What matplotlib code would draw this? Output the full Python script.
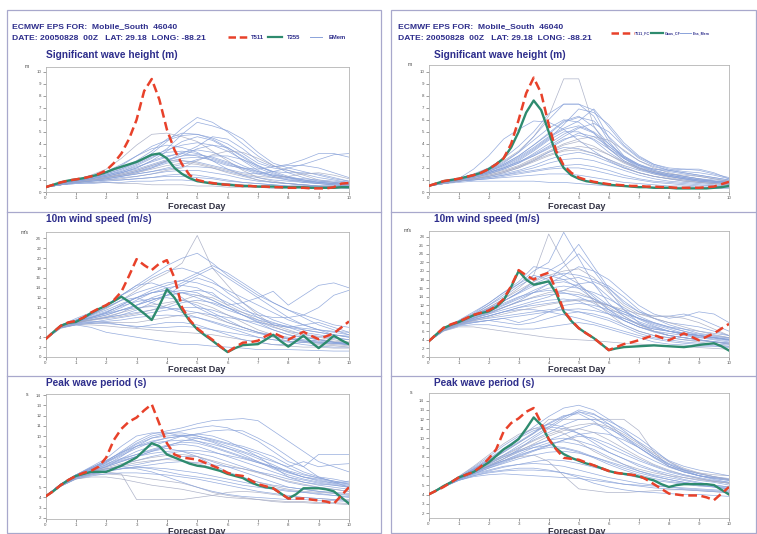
import numpy as np
import matplotlib
matplotlib.use("Agg")
import matplotlib.pyplot as plt
from matplotlib.lines import Line2D

plt.rcParams['font.family'] = ['Liberation Sans', 'DejaVu Sans']

W, H = 757, 534
TXT = '#2e2e8c'
RED = '#e8412a'
GRN = '#2e8b6e'
ENS = '#8aa3da'
FRAME = '#a8a8cc'

# days: ensemble every 12 h, control runs every 6 h
days_ens = np.arange(0, 10.01, 0.5)
days_ctl = np.arange(0, 10.01, 0.25)

# ---------------- significant wave height, left (T511 / T255) ----------------
hs_l_red = [0.4, 0.6, 0.8, 0.95, 1.05, 1.15, 1.3, 1.5, 1.8, 2.4, 3.2, 4.4, 6.0, 8.4, 9.4, 7.7, 5.2,
            3.5, 2.3, 1.4, 1.0, 0.85, 0.75, 0.65, 0.6, 0.55, 0.5, 0.5, 0.45, 0.45, 0.4, 0.4, 0.35,
            0.35, 0.35, 0.3, 0.3, 0.3, 0.4, 0.7, 0.75]
hs_l_grn = [0.4, 0.6, 0.8, 0.95, 1.05, 1.15, 1.3, 1.45, 1.65, 1.9, 2.1, 2.3, 2.5, 2.8, 3.1, 3.2, 2.8,
            2.0, 1.5, 1.15, 0.9, 0.8, 0.7, 0.65, 0.6, 0.55, 0.5, 0.5, 0.45, 0.45, 0.45, 0.4, 0.4,
            0.4, 0.4, 0.35, 0.35, 0.35, 0.35, 0.4, 0.4]
hs_l_ens = [
    [0.4, 0.7, 1.0, 1.4, 1.9, 2.8, 3.9, 4.8, 4.9, 4.6, 4.2, 3.4, 2.6, 1.8, 1.2, 0.9, 0.7, 0.6, 0.5, 0.5, 0.5],
    [0.4, 0.7, 1.0, 1.2, 1.5, 1.9, 2.5, 3.2, 4.2, 5.3, 6.2, 5.8, 5.0, 4.0, 3.0, 2.2, 1.6, 1.2, 0.9, 0.8, 0.7],
    [0.4, 0.7, 1.0, 1.2, 1.4, 1.7, 2.2, 2.8, 3.6, 4.8, 5.8, 5.5, 5.1, 4.4, 3.3, 2.4, 2.0, 1.7, 1.4, 1.1, 0.9],
    [0.4, 0.7, 1.0, 1.1, 1.3, 1.6, 2.0, 2.6, 3.0, 3.2, 3.0, 2.6, 2.2, 2.0, 1.9, 2.1, 2.3, 2.7, 3.2, 3.2, 2.9],
    [0.4, 0.7, 0.9, 1.1, 1.3, 1.6, 2.0, 2.6, 3.4, 4.2, 4.6, 4.3, 3.6, 2.6, 1.8, 1.3, 1.0, 0.8, 0.7, 0.6, 0.5],
    [0.4, 0.7, 0.9, 1.0, 1.2, 1.4, 1.7, 2.0, 2.4, 2.6, 2.5, 2.2, 1.9, 1.6, 1.5, 1.7, 2.0, 2.3, 2.7, 3.1, 3.2],
    [0.4, 0.6, 0.8, 0.8, 0.8, 0.7, 0.7, 0.6, 0.6, 0.6, 0.5, 0.5, 0.4, 0.4, 0.4, 0.3, 0.3, 0.3, 0.3, 0.3, 0.3],
    [0.4, 0.6, 0.8, 0.9, 1.0, 1.0, 1.1, 1.2, 1.4, 1.5, 1.4, 1.2, 1.0, 0.8, 0.7, 0.6, 0.5, 0.5, 0.4, 0.4, 0.4],
    [0.4, 0.7, 0.9, 1.1, 1.4, 1.8, 2.3, 2.9, 3.3, 3.4, 3.2, 2.8, 2.4, 2.0, 1.7, 1.4, 1.2, 1.0, 0.8, 0.7, 0.6],
    [0.4, 0.7, 0.9, 1.0, 1.2, 1.5, 1.8, 2.2, 2.6, 3.0, 3.6, 3.9, 3.7, 3.0, 2.2, 1.6, 1.2, 0.9, 0.7, 0.6, 0.5],
    [0.4, 0.6, 0.8, 1.0, 1.1, 1.3, 1.5, 1.7, 1.9, 2.1, 2.1, 2.0, 1.7, 1.4, 1.2, 1.0, 0.9, 0.8, 0.7, 0.6, 0.5],
    [0.4, 0.7, 0.9, 1.2, 1.6, 2.2, 3.0, 3.8, 4.3, 4.7, 4.8, 4.4, 3.7, 2.9, 2.1, 1.7, 1.6, 1.6, 1.5, 1.2, 0.9],
    [0.4, 0.6, 0.8, 0.9, 1.0, 1.1, 1.3, 1.5, 1.8, 2.0, 2.6, 3.1, 3.4, 3.3, 2.8, 2.2, 1.8, 1.4, 1.0, 0.8, 0.6],
    [0.4, 0.6, 0.7, 0.7, 0.8, 0.8, 0.9, 0.9, 1.0, 1.0, 0.9, 0.8, 0.7, 0.6, 0.5, 0.5, 0.4, 0.4, 0.4, 0.4, 0.3],
    [0.4, 0.6, 0.8, 1.0, 1.2, 1.4, 1.7, 2.1, 2.5, 2.8, 2.9, 2.7, 2.3, 1.9, 1.5, 1.2, 1.0, 0.9, 0.8, 0.7, 0.6],
    [0.4, 0.7, 1.0, 1.3, 1.7, 2.3, 3.0, 3.6, 3.9, 3.7, 3.3, 2.6, 1.9, 1.4, 1.0, 0.8, 0.7, 0.6, 0.5, 0.4, 0.4],
    [0.4, 0.7, 1.0, 1.3, 1.6, 2.0, 2.6, 3.4, 4.4, 4.9, 4.8, 4.5, 4.0, 3.2, 2.4, 2.0, 1.8, 1.5, 1.2, 1.0, 0.8],
    [0.4, 0.6, 0.8, 1.0, 1.1, 1.3, 1.6, 2.0, 2.6, 3.2, 3.8, 4.6, 4.4, 3.6, 2.6, 2.1, 2.2, 2.2, 2.0, 1.6, 1.2],
    [0.4, 0.6, 0.8, 1.0, 1.2, 1.4, 1.6, 1.9, 2.2, 2.4, 2.3, 2.0, 1.6, 1.3, 1.0, 0.8, 0.7, 0.6, 0.5, 0.5, 0.4],
    [0.4, 0.7, 0.9, 1.1, 1.3, 1.6, 1.9, 2.3, 2.7, 3.0, 3.1, 2.9, 2.5, 2.0, 1.6, 1.3, 1.1, 0.9, 0.8, 0.7, 0.6],
    [0.4, 0.6, 0.8, 0.9, 1.0, 1.2, 1.3, 1.5, 1.7, 1.8, 1.8, 1.6, 1.4, 1.1, 0.9, 0.8, 0.7, 0.6, 0.5, 0.5, 0.4],
    [0.4, 0.7, 0.9, 1.1, 1.4, 1.7, 2.1, 2.5, 2.9, 3.3, 3.5, 3.3, 2.8, 2.2, 1.7, 1.4, 1.2, 1.1, 1.0, 0.9, 0.8],
    [0.4, 0.6, 0.7, 0.8, 0.9, 1.0, 1.1, 1.2, 1.3, 1.3, 1.2, 1.1, 0.9, 0.8, 0.7, 0.6, 0.5, 0.5, 0.4, 0.4, 0.4],
    [0.4, 0.7, 0.9, 1.2, 1.5, 1.9, 2.4, 3.0, 3.5, 3.9, 4.1, 3.9, 3.4, 2.7, 2.0, 1.5, 1.2, 1.0, 0.9, 0.8, 0.7],
    [0.4, 0.6, 0.8, 1.0, 1.2, 1.5, 1.8, 2.2, 2.6, 2.6, 2.4, 2.1, 1.8, 1.5, 1.3, 1.2, 1.3, 1.5, 1.6, 1.4, 1.1],
    [0.4, 0.6, 0.8, 0.9, 1.1, 1.3, 1.5, 1.7, 2.0, 2.3, 2.7, 3.0, 3.0, 2.7, 2.2, 1.7, 1.3, 1.0, 0.8, 0.7, 0.6],
]

# ---------------- significant wave height, right ----------------
hs_r_red = [0.5, 0.7, 0.9, 1.0, 1.1, 1.25, 1.4, 1.6, 1.9, 2.3, 2.8, 4.0, 6.0, 8.2, 9.5, 8.2, 5.6,
            3.4, 2.2, 1.6, 1.2, 1.0, 0.85, 0.75, 0.65, 0.6, 0.55, 0.5, 0.5, 0.45, 0.45, 0.4, 0.4,
            0.35, 0.35, 0.35, 0.35, 0.4, 0.45, 0.65, 0.85]
hs_r_grn = [0.5, 0.7, 0.9, 1.0, 1.1, 1.25, 1.4, 1.6, 1.9, 2.3, 2.8, 3.7, 5.0, 6.6, 7.6, 6.8, 5.0,
            3.1, 2.0, 1.4, 1.1, 0.9, 0.8, 0.7, 0.6, 0.55, 0.5, 0.45, 0.4, 0.4, 0.35, 0.35, 0.35,
            0.3, 0.3, 0.3, 0.3, 0.3, 0.35, 0.4, 0.5]
hs_r_ens = [
    [0.5, 0.8, 1.1, 1.4, 1.9, 2.6, 3.4, 4.6, 6.3, 9.4, 9.4, 5.5, 3.6, 2.6, 2.0, 1.6, 1.3, 1.1, 0.9, 0.8, 0.7],
    [0.5, 0.8, 1.1, 1.5, 2.0, 2.8, 3.8, 5.0, 6.5, 7.3, 7.3, 6.8, 4.5, 3.0, 2.2, 1.7, 1.4, 1.2, 1.0, 0.9, 0.8],
    [0.5, 0.8, 1.1, 1.9, 3.0, 4.4, 5.2, 5.9, 5.8, 5.2, 4.3, 3.4, 2.6, 2.0, 1.6, 1.3, 1.1, 1.0, 0.9, 0.8, 0.7],
    [0.5, 0.8, 1.0, 1.3, 1.7, 2.3, 3.0, 3.9, 4.8, 5.8, 6.2, 5.9, 4.6, 3.4, 2.6, 2.1, 1.8, 1.6, 1.4, 1.2, 1.0],
    [0.5, 0.8, 1.0, 1.3, 1.6, 2.1, 2.7, 3.5, 4.4, 5.6, 6.9, 6.6, 5.6, 4.1, 3.0, 2.3, 1.9, 1.7, 1.6, 1.4, 1.1],
    [0.5, 0.8, 1.0, 1.2, 1.5, 1.9, 2.4, 3.2, 4.0, 4.8, 5.4, 4.9, 3.8, 2.8, 2.2, 1.9, 1.8, 1.9, 1.9, 1.6, 1.1],
    [0.5, 0.8, 1.0, 1.2, 1.4, 1.7, 2.1, 2.7, 3.3, 3.9, 4.2, 3.8, 3.1, 2.4, 1.9, 1.5, 1.2, 1.0, 0.8, 0.7, 0.6],
    [0.5, 0.7, 0.9, 1.1, 1.2, 1.4, 1.6, 1.8, 2.0, 2.2, 2.3, 2.1, 1.8, 1.4, 1.1, 0.9, 0.8, 0.7, 0.6, 0.5, 0.5],
    [0.5, 0.7, 0.9, 1.0, 1.1, 1.2, 1.3, 1.4, 1.5, 1.5, 1.4, 1.2, 1.0, 0.8, 0.7, 0.6, 0.5, 0.5, 0.4, 0.4, 0.4],
    [0.5, 0.7, 0.8, 0.9, 0.9, 0.9, 0.9, 0.9, 0.8, 0.8, 0.7, 0.6, 0.5, 0.5, 0.4, 0.4, 0.4, 0.3, 0.3, 0.3, 0.3],
    [0.5, 0.8, 1.1, 1.4, 1.8, 2.5, 3.3, 4.3, 5.3, 6.0, 5.8, 4.9, 3.6, 2.6, 2.0, 1.6, 1.3, 1.1, 0.9, 0.8, 0.7],
    [0.5, 0.8, 1.0, 1.3, 1.6, 2.0, 2.6, 3.4, 4.3, 5.0, 5.0, 4.3, 3.3, 2.5, 1.9, 1.6, 1.4, 1.2, 1.0, 0.9, 0.8],
    [0.5, 0.8, 1.0, 1.2, 1.5, 1.8, 2.2, 2.8, 3.4, 4.0, 4.4, 4.6, 4.3, 3.5, 2.6, 2.0, 1.6, 1.3, 1.1, 0.9, 0.8],
    [0.5, 0.8, 1.1, 1.4, 1.8, 2.4, 3.3, 4.6, 6.0, 7.3, 7.3, 6.3, 4.2, 2.8, 2.0, 1.6, 1.3, 1.1, 1.0, 0.9, 0.8],
    [0.5, 0.7, 0.9, 1.1, 1.3, 1.5, 1.8, 2.2, 2.7, 3.1, 3.3, 3.0, 2.5, 2.0, 1.6, 1.3, 1.1, 0.9, 0.8, 0.7, 0.6],
    [0.5, 0.8, 1.0, 1.3, 1.7, 2.2, 2.9, 3.7, 4.6, 5.3, 5.9, 6.9, 5.4, 3.9, 2.9, 2.3, 2.0, 1.9, 1.8, 1.5, 1.2],
    [0.5, 0.7, 0.9, 1.1, 1.3, 1.6, 2.0, 2.6, 3.3, 3.7, 3.6, 3.2, 2.7, 2.2, 1.8, 1.5, 1.3, 1.1, 0.9, 0.8, 0.7],
    [0.5, 0.8, 1.0, 1.3, 1.6, 2.0, 2.5, 3.0, 3.6, 4.3, 4.9, 4.6, 3.8, 2.9, 2.3, 1.9, 1.7, 1.5, 1.3, 1.1, 0.9],
    [0.5, 0.7, 0.9, 1.1, 1.3, 1.6, 2.0, 2.5, 3.0, 3.4, 3.5, 3.2, 2.7, 2.1, 1.6, 1.3, 1.1, 0.9, 0.8, 0.7, 0.6],
    [0.5, 0.8, 1.0, 1.2, 1.5, 1.9, 2.4, 3.0, 3.7, 4.4, 4.7, 4.4, 3.6, 2.8, 2.1, 1.7, 1.4, 1.2, 1.0, 0.9, 0.8],
    [0.5, 0.7, 0.9, 1.0, 1.2, 1.4, 1.7, 2.0, 2.4, 2.7, 2.8, 2.6, 2.2, 1.8, 1.4, 1.1, 0.9, 0.8, 0.7, 0.6, 0.5],
    [0.5, 0.8, 1.0, 1.3, 1.7, 2.2, 2.8, 3.6, 4.5, 5.2, 5.5, 5.0, 4.0, 3.0, 2.3, 1.8, 1.5, 1.3, 1.1, 1.0, 0.9],
    [0.5, 0.7, 0.9, 1.0, 1.1, 1.3, 1.5, 1.7, 1.9, 2.0, 2.0, 1.8, 1.5, 1.2, 1.0, 0.8, 0.7, 0.6, 0.5, 0.5, 0.4],
    [0.5, 0.8, 1.0, 1.3, 1.6, 2.0, 2.5, 3.1, 3.8, 4.6, 5.3, 5.7, 5.0, 3.8, 2.8, 2.2, 1.8, 1.6, 1.4, 1.2, 1.0],
    [0.5, 0.7, 0.9, 1.1, 1.4, 1.7, 2.1, 2.6, 3.1, 3.5, 3.8, 3.6, 3.1, 2.5, 2.0, 1.7, 1.5, 1.4, 1.3, 1.1, 0.9],
    [0.5, 0.8, 1.1, 1.4, 1.8, 2.3, 3.0, 3.9, 4.9, 5.9, 6.3, 5.4, 4.0, 2.9, 2.2, 1.8, 1.5, 1.3, 1.1, 0.9, 0.8],
]

# ---------------- 10m wind speed, left ----------------
ws_l_red = [3.6, 5.0, 6.3, 7.0, 7.3, 8.0, 9.0, 9.8, 10.5, 11.5, 13.2, 16.4, 19.8, 18.6, 17.6, 18.9, 19.6,
            16.0, 10.0, 7.5, 5.8, 4.6, 3.5, 2.2, 1.0, 2.0, 2.9, 3.0, 3.3, 4.2, 4.9, 4.2, 3.5, 4.3,
            5.1, 4.3, 3.6, 4.2, 4.8, 6.0, 7.2]
ws_l_grn = [3.6, 5.0, 6.3, 6.9, 7.1, 7.9, 8.9, 9.7, 10.4, 11.3, 12.2, 11.2, 10.0, 8.8, 7.5, 10.4, 13.7,
            12.0, 9.5, 7.3, 5.6, 4.4, 3.3, 2.1, 1.0, 1.8, 2.4, 2.5, 2.6, 3.5, 4.5, 3.2, 2.1, 3.2,
            4.3, 3.0, 1.8, 3.0, 4.3, 3.4, 2.6]
ws_l_ens = [
    [3.6, 6.5, 7.5, 8.5, 9.8, 11.5, 13.5, 15.5, 17.0, 19.0, 24.6, 18.0, 14.5, 11.0, 8.5, 6.5, 5.5, 4.5, 4.0, 3.5, 3.0],
    [3.6, 6.0, 7.0, 8.5, 10.5, 12.5, 14.5, 16.5, 18.5, 20.0, 21.0, 19.0, 16.5, 14.5, 12.5, 11.0, 9.5, 8.0, 6.5, 5.5, 4.5],
    [3.6, 6.2, 7.3, 8.0, 9.0, 10.5, 12.0, 13.5, 14.5, 15.5, 17.0, 18.5, 17.0, 15.0, 13.0, 11.0, 9.5, 8.5, 7.5, 6.5, 6.0],
    [3.6, 6.0, 7.0, 7.8, 8.5, 9.5, 10.5, 11.5, 12.5, 13.0, 13.5, 13.0, 10.5, 11.0, 12.0, 13.3, 10.5, 12.5, 14.5, 15.0, 14.0],
    [3.6, 6.3, 7.2, 8.0, 8.8, 10.0, 11.5, 13.0, 14.0, 14.5, 14.0, 12.5, 11.0, 9.5, 8.5, 8.0, 8.0, 8.5, 10.0, 12.5, 13.5],
    [3.6, 6.0, 6.8, 7.0, 7.5, 8.0, 8.5, 9.0, 9.5, 10.0, 10.0, 9.5, 8.5, 7.5, 6.5, 5.5, 4.5, 4.0, 3.5, 3.0, 2.8],
    [3.6, 5.8, 6.5, 6.5, 6.3, 6.0, 5.8, 5.5, 5.2, 5.0, 4.8, 4.5, 4.0, 3.5, 3.0, 2.5, 2.2, 2.0, 2.0, 1.8, 1.8],
    [3.6, 6.2, 7.0, 7.5, 8.0, 9.0, 10.5, 12.0, 13.0, 13.5, 13.0, 11.5, 10.0, 8.5, 7.0, 5.5, 4.5, 4.0, 3.5, 3.0, 2.5],
    [3.6, 6.0, 7.2, 8.5, 10.0, 11.5, 12.0, 11.0, 10.0, 9.0, 8.0, 7.0, 6.0, 5.0, 4.0, 3.5, 3.0, 2.5, 2.2, 2.0, 2.0],
    [3.6, 6.0, 6.5, 6.0, 5.0, 4.5, 4.0, 3.5, 3.0, 2.5, 2.5, 2.2, 2.0, 1.8, 1.5, 1.5, 1.5, 1.4, 1.3, 1.2, 1.2],
    [3.6, 6.4, 7.5, 8.8, 10.5, 12.5, 14.5, 15.0, 14.0, 12.0, 10.0, 8.5, 7.0, 6.0, 5.0, 4.5, 4.0, 3.5, 3.2, 3.0, 2.8],
    [3.6, 6.1, 7.0, 7.5, 8.0, 8.5, 9.5, 11.0, 12.5, 14.5, 16.0, 15.0, 13.5, 12.0, 10.5, 9.0, 7.5, 6.5, 5.5, 5.0, 4.5],
    [3.6, 5.9, 6.6, 6.8, 7.0, 7.0, 7.0, 7.5, 8.0, 8.5, 9.0, 8.0, 7.0, 6.0, 5.0, 4.0, 3.2, 3.0, 2.5, 2.3, 2.0],
    [3.6, 6.2, 7.0, 8.0, 9.0, 10.5, 12.0, 13.0, 13.5, 15.0, 16.5, 18.0, 16.0, 14.0, 12.0, 10.0, 8.0, 6.5, 5.5, 4.5, 4.0],
    [3.6, 6.3, 7.4, 8.6, 10.0, 11.5, 13.0, 14.0, 15.0, 15.5, 15.0, 14.0, 12.0, 10.0, 8.0, 6.5, 6.0, 6.5, 7.0, 6.0, 5.0],
    [3.6, 6.0, 6.8, 7.5, 8.0, 8.5, 9.0, 9.5, 10.0, 11.0, 11.5, 11.0, 10.0, 9.0, 8.0, 7.0, 6.0, 5.0, 4.5, 4.0, 3.5],
    [3.6, 6.1, 6.9, 7.2, 7.0, 6.5, 6.0, 6.5, 7.0, 7.0, 6.5, 5.5, 4.5, 3.5, 3.0, 2.5, 2.5, 3.0, 3.5, 3.0, 2.5],
    [3.6, 6.4, 7.8, 9.0, 10.5, 12.5, 14.0, 16.0, 17.5, 18.0, 17.0, 15.5, 13.0, 11.0, 9.0, 7.5, 6.5, 5.5, 5.0, 4.5, 4.0],
    [3.6, 6.1, 7.0, 7.6, 8.2, 9.0, 9.8, 10.5, 11.0, 11.5, 11.0, 10.0, 8.5, 7.0, 5.5, 4.5, 3.8, 3.2, 2.8, 2.5, 2.3],
    [3.6, 6.3, 7.3, 8.2, 9.2, 10.3, 11.2, 11.8, 12.0, 11.5, 10.5, 9.0, 7.5, 6.0, 5.0, 4.2, 3.6, 3.2, 3.0, 2.8, 2.5],
    [3.6, 6.0, 6.7, 7.0, 7.2, 7.5, 8.0, 8.3, 8.5, 8.3, 8.0, 7.2, 6.3, 5.5, 4.8, 4.2, 3.7, 3.3, 3.0, 2.8, 2.6],
    [3.6, 6.2, 7.1, 7.8, 8.5, 9.5, 10.5, 11.5, 12.5, 13.0, 12.5, 11.5, 10.0, 8.5, 7.2, 6.0, 5.2, 4.6, 4.2, 3.8, 3.5],
    [3.6, 5.9, 6.5, 6.8, 6.8, 6.5, 6.2, 6.0, 6.0, 6.2, 6.0, 5.5, 5.0, 4.5, 4.0, 3.5, 3.2, 3.0, 2.8, 2.7, 2.5],
    [3.6, 6.2, 7.2, 8.0, 8.8, 9.5, 10.0, 10.2, 10.0, 9.5, 9.0, 8.5, 8.0, 7.5, 7.0, 6.5, 6.0, 5.5, 5.0, 4.5, 4.2],
    [3.6, 6.1, 7.0, 7.4, 7.8, 8.2, 8.8, 9.5, 10.5, 11.5, 12.5, 12.0, 10.5, 9.0, 7.5, 6.2, 5.0, 4.2, 3.6, 3.2, 3.0],
    [3.6, 6.3, 7.4, 8.4, 9.5, 10.8, 12.0, 13.0, 13.5, 13.0, 12.0, 10.8, 9.5, 8.5, 7.5, 6.8, 6.2, 5.8, 5.5, 5.2, 5.0],
]

# ---------------- 10m wind speed, right ----------------
ws_r_red = [3.6, 5.2, 6.8, 7.6, 8.2, 9.0, 9.8, 10.3, 10.8, 11.8, 13.5, 16.5, 20.2, 19.0, 18.0, 19.0, 19.6,
            15.5, 10.8, 8.5, 6.7, 5.5, 4.4, 3.0, 1.6, 2.3, 3.0, 3.4, 3.9, 4.5, 5.1, 4.5, 3.9, 4.7,
            5.5, 4.7, 3.9, 4.7, 5.5, 6.6, 7.7]
ws_r_grn = [3.6, 5.2, 6.7, 7.5, 8.1, 8.9, 9.7, 10.2, 10.6, 11.6, 13.2, 16.3, 20.0, 18.0, 16.8, 17.2, 17.6,
            14.8, 10.6, 8.4, 6.7, 5.5, 4.4, 3.0, 1.6, 2.0, 2.3, 2.4, 2.5, 2.6, 2.7, 2.6, 2.5, 2.4,
            2.3, 2.5, 2.8, 3.0, 3.2, 2.5, 1.5]
ws_r_ens = [
    [3.6, 6.5, 8.0, 9.5, 11.5, 13.5, 16.0, 19.0, 28.6, 22.0, 17.0, 13.0, 10.0, 7.5, 6.0, 5.0, 4.5, 4.0, 3.5, 3.0, 2.5],
    [3.6, 6.5, 8.2, 9.8, 12.0, 14.5, 17.0, 20.0, 22.0, 29.0, 23.0, 17.0, 12.5, 9.5, 7.5, 6.5, 6.0, 5.5, 5.0, 4.5, 4.0],
    [3.6, 6.3, 8.0, 9.5, 11.0, 13.0, 15.0, 17.5, 20.0, 22.0, 26.2, 21.0, 16.0, 12.5, 10.5, 9.5, 9.5, 10.0, 9.0, 7.5, 6.0],
    [3.6, 6.6, 8.5, 10.5, 12.5, 15.0, 17.5, 21.0, 20.5, 19.0, 17.0, 14.0, 11.0, 8.5, 7.0, 6.0, 5.5, 5.0, 4.5, 4.0, 3.5],
    [3.6, 6.4, 8.0, 9.0, 10.0, 11.5, 13.0, 15.0, 17.0, 19.0, 21.0, 20.0, 18.0, 15.0, 12.0, 10.0, 9.0, 9.5, 10.5, 10.0, 8.0],
    [3.6, 6.2, 7.5, 8.0, 8.5, 9.0, 8.0, 9.0, 10.5, 12.0, 12.5, 12.0, 11.0, 10.0, 9.0, 8.0, 7.0, 6.0, 5.0, 4.5, 4.0],
    [3.6, 6.0, 7.0, 7.0, 6.5, 6.0, 5.5, 5.0, 4.5, 4.2, 4.0, 3.8, 3.5, 3.2, 3.0, 2.8, 2.5, 2.5, 2.2, 2.0, 1.8],
    [3.6, 6.4, 8.0, 9.5, 11.0, 12.5, 14.0, 15.0, 15.5, 15.0, 14.0, 12.5, 10.5, 8.5, 7.0, 6.0, 5.0, 4.5, 4.0, 3.5, 3.0],
    [3.6, 6.3, 7.8, 9.0, 10.0, 11.0, 12.0, 13.0, 14.0, 15.5, 17.0, 17.5, 16.0, 13.0, 10.5, 9.0, 8.0, 7.5, 7.0, 6.0, 5.0],
    [3.6, 6.1, 7.2, 7.5, 7.5, 7.0, 6.5, 6.5, 7.0, 7.5, 8.0, 7.5, 6.5, 5.5, 4.5, 3.5, 3.0, 2.8, 2.5, 2.5, 2.2],
    [3.6, 6.5, 8.3, 10.0, 12.0, 14.0, 16.5, 18.5, 19.0, 18.0, 16.0, 13.5, 11.0, 9.0, 7.5, 6.5, 6.0, 5.5, 5.0, 4.5, 4.0],
    [3.6, 6.3, 7.7, 8.8, 9.5, 10.5, 11.5, 12.0, 12.5, 13.0, 13.5, 13.0, 12.0, 10.5, 9.0, 7.5, 6.5, 5.5, 5.0, 4.5, 4.0],
    [3.6, 6.4, 8.2, 9.8, 11.5, 13.5, 15.5, 17.5, 19.0, 20.0, 20.5, 18.5, 15.0, 12.0, 10.0, 9.5, 9.5, 9.0, 8.0, 6.5, 5.0],
    [3.6, 6.2, 7.6, 8.5, 9.0, 9.5, 10.0, 10.5, 11.0, 11.0, 10.5, 9.5, 8.5, 7.0, 5.5, 4.5, 4.0, 3.5, 3.2, 3.0, 2.8],
    [3.6, 6.5, 8.4, 10.2, 12.5, 15.0, 17.0, 19.0, 18.0, 21.0, 24.0, 20.0, 15.5, 11.0, 8.0, 6.0, 5.0, 4.5, 4.0, 3.5, 3.0],
    [3.6, 6.3, 7.9, 9.2, 10.5, 12.0, 13.5, 15.0, 16.0, 16.5, 16.0, 15.0, 13.5, 11.5, 9.5, 8.0, 7.0, 6.5, 6.0, 5.5, 5.0],
    [3.6, 6.2, 7.5, 8.2, 8.5, 8.0, 7.5, 8.0, 9.0, 10.0, 10.5, 10.0, 9.0, 7.5, 6.0, 5.0, 4.5, 4.0, 3.8, 3.5, 3.2],
    [3.6, 6.4, 8.1, 9.6, 11.2, 13.0, 15.0, 17.0, 18.5, 19.5, 19.0, 18.0, 16.5, 14.0, 11.0, 9.0, 7.5, 6.5, 5.5, 5.0, 4.5],
    [3.6, 6.3, 7.8, 9.0, 10.2, 11.5, 12.8, 14.0, 15.0, 15.5, 15.0, 13.5, 11.5, 9.5, 7.5, 6.0, 5.0, 4.5, 4.0, 3.5, 3.2],
    [3.6, 6.2, 7.6, 8.6, 9.5, 10.5, 11.5, 12.5, 13.2, 13.5, 13.0, 11.5, 10.0, 8.5, 7.0, 5.8, 5.0, 4.5, 4.0, 3.6, 3.3],
    [3.6, 6.4, 8.0, 9.4, 10.8, 12.2, 13.8, 15.5, 17.0, 17.5, 16.5, 14.5, 12.0, 10.0, 8.2, 7.0, 6.0, 5.2, 4.6, 4.2, 3.8],
    [3.6, 6.1, 7.3, 8.0, 8.5, 9.0, 9.5, 10.0, 10.5, 11.0, 11.2, 10.8, 10.0, 9.0, 7.8, 6.8, 6.0, 5.4, 5.0, 4.6, 4.2],
    [3.6, 6.3, 7.7, 8.7, 9.6, 10.5, 11.0, 11.0, 10.5, 9.8, 9.0, 8.0, 7.0, 6.0, 5.0, 4.2, 3.6, 3.2, 2.9, 2.6, 2.4],
    [3.6, 6.5, 8.2, 9.7, 11.3, 13.0, 14.8, 16.5, 17.5, 18.0, 18.5, 17.0, 14.0, 11.0, 8.8, 7.2, 6.0, 5.3, 4.8, 4.4, 4.0],
    [3.6, 6.2, 7.5, 8.4, 9.2, 10.0, 10.8, 11.5, 12.2, 12.8, 13.2, 12.8, 12.0, 11.0, 10.0, 9.0, 8.0, 7.0, 6.0, 5.2, 4.5],
    [3.6, 6.4, 7.9, 9.1, 10.3, 11.6, 12.8, 13.8, 14.5, 14.8, 14.5, 13.5, 12.0, 10.5, 9.0, 7.8, 6.8, 6.0, 5.3, 4.8, 4.4],
]

# ---------------- peak wave period, left ----------------
tp_l_red = [4.1, 4.6, 5.2, 5.7, 6.1, 6.4, 6.6, 7.0, 7.9, 9.6, 10.7, 11.4, 11.8, 12.5, 13.1, 11.2, 9.3,
            8.2, 7.9, 7.8, 7.7, 7.4, 7.1, 6.8, 6.4, 6.2, 6.1, 5.7, 5.3, 5.1, 4.9, 4.4, 3.9, 3.9,
            3.9, 3.8, 3.7, 3.6, 3.4, 4.2, 5.0]
tp_l_grn = [4.1, 4.6, 5.2, 5.7, 6.1, 6.3, 6.5, 6.5, 6.5, 6.8, 7.1, 7.5, 7.9, 8.6, 9.3, 9.0, 8.2,
            7.9, 7.6, 7.3, 7.1, 7.0, 6.8, 6.6, 6.3, 6.1, 5.9, 5.5, 5.2, 5.0, 4.9, 4.4, 3.9, 4.3,
            4.9, 4.9, 4.9, 4.8, 4.6, 4.0, 3.4]
tp_l_ens = [
    [4.1, 5.2, 6.0, 6.3, 6.5, 6.3, 3.8, 3.8, 3.8, 3.8, 4.0, 4.2, 4.5, 4.6, 4.5, 4.3, 4.1, 4.0, 3.9, 3.8, 3.8],
    [4.1, 5.3, 6.1, 6.8, 7.5, 8.5, 9.5, 10.2, 10.5, 10.8, 11.2, 11.5, 11.6, 11.7, 11.5, 10.5, 9.5, 8.5, 7.5, 7.0, 6.5],
    [4.1, 5.2, 6.0, 6.6, 7.2, 8.0, 9.0, 9.8, 10.2, 10.5, 10.8, 11.0, 10.8, 10.2, 9.5, 8.5, 7.5, 7.0, 8.2, 8.2, 8.2],
    [4.1, 5.3, 6.2, 7.0, 7.8, 9.0, 10.0, 10.3, 10.3, 10.0, 9.5, 9.0, 8.5, 8.0, 7.5, 7.0, 6.5, 6.0, 5.8, 5.5, 5.3],
    [4.1, 5.2, 6.0, 6.5, 7.0, 7.5, 8.0, 8.5, 9.0, 9.5, 9.8, 9.5, 9.0, 8.5, 8.0, 7.5, 7.0, 7.5, 7.0, 7.2, 7.3],
    [4.1, 5.3, 6.1, 6.5, 6.8, 7.0, 7.2, 7.5, 7.8, 8.0, 8.0, 7.5, 7.0, 6.5, 6.0, 5.5, 5.0, 4.8, 4.6, 4.5, 4.4],
    [4.1, 5.1, 5.8, 6.0, 6.0, 5.8, 5.5, 5.2, 5.0, 4.8, 4.5, 4.2, 4.0, 3.9, 3.8, 3.7, 3.6, 3.6, 3.5, 3.5, 3.4],
    [4.1, 5.2, 6.0, 6.5, 7.0, 7.8, 8.5, 9.0, 9.5, 10.0, 10.2, 10.0, 9.5, 8.8, 8.0, 7.0, 6.0, 5.5, 5.2, 5.0, 4.8],
    [4.1, 5.2, 5.9, 6.2, 6.5, 6.8, 7.0, 6.8, 6.5, 6.2, 6.0, 5.8, 5.5, 5.2, 5.0, 4.8, 4.6, 4.5, 4.4, 4.2, 4.0],
    [4.1, 5.3, 6.2, 6.9, 7.5, 8.2, 9.0, 9.5, 9.8, 10.0, 10.2, 10.5, 10.6, 10.5, 9.8, 9.0, 8.0, 7.0, 6.0, 5.5, 5.0],
    [4.1, 5.2, 6.0, 6.4, 6.7, 7.2, 7.6, 8.0, 8.3, 8.5, 8.3, 8.0, 7.5, 7.0, 6.5, 6.0, 5.5, 5.2, 5.0, 4.8, 4.6],
    [4.1, 5.2, 6.1, 6.8, 7.3, 7.8, 8.2, 8.6, 9.0, 9.2, 9.0, 8.5, 8.0, 7.5, 7.0, 6.5, 6.0, 5.7, 5.4, 5.2, 5.0],
    [4.1, 5.1, 5.8, 6.2, 6.3, 6.2, 6.0, 5.8, 5.6, 5.4, 5.0, 4.5, 4.2, 4.0, 3.8, 3.6, 3.5, 3.5, 3.4, 3.4, 3.3],
    [4.1, 5.3, 6.1, 6.6, 7.0, 7.5, 8.0, 8.5, 8.8, 8.5, 8.0, 7.2, 6.5, 6.0, 5.5, 5.2, 5.0, 4.8, 4.6, 4.4, 4.2],
    [4.1, 5.2, 6.0, 6.7, 7.4, 8.3, 9.2, 9.8, 10.0, 10.1, 10.0, 9.7, 9.3, 9.0, 8.5, 8.0, 7.2, 6.5, 6.0, 5.8, 5.5],
    [4.1, 5.1, 5.9, 6.3, 6.6, 6.8, 7.0, 7.2, 7.4, 7.5, 7.4, 7.2, 7.0, 6.8, 6.5, 6.2, 5.8, 5.5, 5.3, 5.2, 5.0],
    [4.1, 5.2, 6.0, 6.5, 6.8, 7.0, 6.8, 6.5, 6.0, 5.5, 5.0, 4.6, 4.3, 4.1, 4.0, 3.9, 3.8, 3.8, 3.7, 3.7, 3.6],
    [4.1, 5.3, 6.2, 6.9, 7.6, 8.4, 9.0, 9.3, 9.5, 9.6, 9.5, 9.2, 8.8, 8.4, 7.8, 7.2, 6.5, 6.0, 5.6, 5.4, 5.6],
    [4.1, 5.2, 6.0, 6.5, 6.9, 7.3, 7.6, 7.9, 8.1, 8.2, 8.0, 7.6, 7.2, 6.8, 6.4, 6.0, 5.6, 5.3, 5.0, 4.8, 4.6],
    [4.1, 5.3, 6.1, 6.7, 7.2, 7.7, 8.2, 8.7, 9.1, 9.4, 9.3, 8.9, 8.4, 7.9, 7.4, 6.9, 6.4, 6.0, 5.7, 5.4, 5.2],
    [4.1, 5.2, 5.9, 6.3, 6.6, 6.8, 6.9, 6.9, 6.8, 6.6, 6.4, 6.1, 5.8, 5.5, 5.2, 4.9, 4.7, 4.5, 4.3, 4.2, 4.1],
    [4.1, 5.3, 6.1, 6.8, 7.4, 8.1, 8.8, 9.4, 9.8, 10.0, 9.8, 9.4, 8.8, 8.2, 7.5, 6.8, 6.2, 5.8, 5.5, 5.3, 5.1],
    [4.1, 5.1, 5.8, 6.1, 6.3, 6.4, 6.4, 6.3, 6.2, 6.0, 5.8, 5.5, 5.2, 4.9, 4.6, 4.4, 4.2, 4.0, 3.9, 3.8, 3.7],
    [4.1, 5.2, 6.0, 6.6, 7.1, 7.6, 8.0, 8.3, 8.5, 8.6, 8.6, 8.4, 8.1, 7.8, 7.4, 7.0, 6.6, 6.2, 5.9, 5.6, 5.4],
    [4.1, 5.2, 6.0, 6.4, 6.8, 7.1, 7.4, 7.6, 7.7, 7.6, 7.3, 6.9, 6.4, 5.9, 5.5, 5.1, 4.8, 4.6, 4.5, 4.4, 4.3],
    [4.1, 5.3, 6.2, 6.9, 7.6, 8.4, 9.3, 10.0, 10.3, 10.3, 10.0, 9.6, 9.2, 8.8, 8.3, 7.6, 6.9, 6.3, 5.9, 5.6, 5.3],
]

# ---------------- peak wave period, right ----------------
tp_r_red = [4.0, 4.4, 4.8, 5.3, 5.8, 6.1, 6.4, 7.0, 7.8, 8.8, 10.7, 11.6, 12.1, 12.8, 13.2, 11.6, 9.9,
            8.8, 7.9, 7.8, 7.7, 7.4, 7.1, 6.8, 6.5, 6.3, 6.2, 6.1, 6.0, 5.6, 5.1, 4.6, 4.1, 4.0,
            3.9, 3.9, 3.9, 3.7, 3.4, 4.1, 4.8]
tp_r_grn = [4.0, 4.4, 4.9, 5.3, 5.8, 6.1, 6.4, 6.9, 7.4, 8.1, 8.8, 9.3, 9.9, 11.0, 12.2, 11.4, 9.9,
            8.9, 8.3, 7.9, 7.6, 7.3, 7.1, 6.8, 6.5, 6.3, 6.2, 6.1, 5.9, 5.7, 5.5, 5.1, 4.8, 5.0,
            5.1, 5.1, 5.1, 5.1, 5.0, 4.5, 4.0]
tp_r_ens = [
    [4.0, 4.9, 5.8, 6.6, 7.5, 8.5, 9.5, 10.5, 12.0, 12.0, 12.0, 12.0, 12.0, 12.0, 10.8, 8.5, 7.0, 6.6, 6.3, 6.1, 6.0],
    [4.0, 4.9, 5.8, 6.7, 7.7, 8.8, 10.0, 11.2, 12.3, 13.2, 13.5, 13.0, 12.0, 10.8, 9.5, 8.2, 7.2, 6.5, 6.0, 5.7, 5.5],
    [4.0, 4.8, 5.6, 6.3, 7.0, 7.8, 8.8, 10.0, 11.0, 12.0, 12.8, 12.5, 11.8, 11.0, 10.0, 8.8, 7.5, 6.6, 6.0, 5.6, 5.3],
    [4.0, 4.9, 5.9, 6.9, 8.0, 9.2, 10.2, 11.0, 11.5, 11.2, 10.5, 9.5, 8.5, 7.8, 7.0, 6.5, 6.0, 5.6, 5.3, 5.0, 4.8],
    [4.0, 4.8, 5.6, 6.2, 6.8, 7.4, 8.0, 8.6, 9.2, 9.8, 10.4, 10.6, 10.4, 9.8, 9.0, 8.0, 7.0, 6.4, 6.0, 5.8, 5.6],
    [4.0, 4.8, 5.5, 5.9, 6.1, 6.2, 6.1, 6.0, 5.9, 5.8, 5.7, 5.5, 5.3, 5.1, 5.0, 4.9, 4.8, 4.7, 4.6, 4.5, 4.4],
    [4.0, 4.8, 5.6, 6.3, 7.0, 7.6, 8.0, 8.2, 7.5, 6.0, 4.6, 4.4, 4.2, 4.2, 4.3, 4.4, 4.5, 4.5, 4.4, 4.3, 4.2],
    [4.0, 4.9, 5.8, 6.8, 7.8, 8.9, 10.0, 10.8, 11.2, 11.0, 10.5, 9.8, 9.0, 8.3, 7.6, 7.0, 6.4, 6.0, 5.7, 5.4, 5.2],
    [4.0, 4.8, 5.7, 6.5, 7.2, 8.0, 8.7, 9.3, 9.8, 10.0, 9.7, 9.2, 8.5, 7.8, 7.2, 6.6, 6.2, 5.8, 5.5, 5.3, 5.0],
    [4.0, 4.8, 5.6, 6.2, 6.6, 7.0, 7.2, 7.3, 7.2, 7.0, 6.6, 6.2, 5.8, 5.5, 5.2, 5.0, 4.8, 4.6, 4.5, 4.4, 4.3],
    [4.0, 4.9, 5.8, 6.7, 7.6, 8.5, 9.5, 10.5, 11.5, 12.3, 12.8, 12.2, 11.2, 10.0, 9.0, 8.0, 7.2, 6.6, 6.2, 5.9, 5.6],
    [4.0, 4.8, 5.7, 6.4, 7.1, 7.8, 8.5, 9.2, 9.8, 10.4, 11.0, 11.5, 11.0, 10.2, 9.2, 8.2, 7.3, 6.7, 6.2, 5.9, 5.7],
    [4.0, 4.9, 5.9, 7.0, 8.2, 9.4, 10.4, 11.0, 11.0, 10.5, 9.6, 8.6, 7.8, 7.2, 6.7, 6.3, 6.0, 5.8, 5.6, 5.4, 5.2],
    [4.0, 4.8, 5.6, 6.1, 6.5, 6.9, 7.2, 7.5, 7.7, 7.6, 7.3, 6.9, 6.5, 6.1, 5.8, 5.5, 5.3, 5.1, 4.9, 4.8, 4.6],
    [4.0, 4.9, 5.8, 6.6, 7.4, 8.2, 9.0, 9.8, 10.6, 11.4, 12.0, 12.0, 11.5, 10.6, 9.6, 8.6, 7.6, 7.0, 6.6, 6.3, 6.0],
    [4.0, 4.8, 5.7, 6.4, 7.0, 7.6, 8.3, 9.0, 9.5, 9.6, 9.3, 8.8, 8.0, 7.2, 6.5, 6.0, 5.6, 5.3, 5.0, 4.8, 4.6],
    [4.0, 4.8, 5.5, 6.0, 6.4, 6.6, 6.8, 6.8, 6.6, 6.3, 5.8, 5.2, 4.8, 4.5, 4.3, 4.2, 4.1, 4.0, 4.0, 3.9, 3.8],
    [4.0, 4.9, 5.8, 6.6, 7.4, 8.2, 9.2, 10.2, 11.2, 12.2, 13.0, 12.6, 11.5, 10.2, 9.0, 7.9, 7.0, 6.4, 6.0, 5.8, 5.6],
    [4.0, 4.8, 5.7, 6.4, 7.1, 7.8, 8.6, 9.4, 10.2, 10.8, 11.0, 10.6, 9.8, 8.9, 8.0, 7.2, 6.6, 6.1, 5.7, 5.4, 5.2],
    [4.0, 4.9, 5.8, 6.6, 7.3, 8.0, 8.6, 9.0, 9.2, 9.0, 8.6, 8.0, 7.4, 6.8, 6.3, 5.9, 5.6, 5.3, 5.1, 4.9, 4.7],
    [4.0, 4.8, 5.6, 6.3, 6.9, 7.5, 8.1, 8.7, 9.3, 9.8, 10.2, 10.0, 9.4, 8.6, 7.8, 7.1, 6.5, 6.1, 5.8, 5.5, 5.3],
    [4.0, 4.8, 5.5, 6.0, 6.3, 6.5, 6.6, 6.6, 6.5, 6.3, 6.0, 5.7, 5.4, 5.1, 4.9, 4.7, 4.6, 4.5, 4.4, 4.3, 4.2],
    [4.0, 4.9, 5.8, 6.7, 7.6, 8.6, 9.6, 10.6, 11.6, 12.4, 12.6, 11.8, 10.6, 9.4, 8.4, 7.6, 6.9, 6.4, 6.0, 5.7, 5.5],
    [4.0, 4.8, 5.6, 6.2, 6.8, 7.3, 7.8, 8.2, 8.5, 8.6, 8.4, 8.0, 7.5, 7.0, 6.5, 6.1, 5.8, 5.5, 5.2, 5.0, 4.8],
    [4.0, 4.8, 5.7, 6.5, 7.3, 8.1, 8.9, 9.7, 10.4, 11.0, 11.4, 11.6, 11.2, 10.4, 9.4, 8.4, 7.5, 6.8, 6.3, 5.9, 5.6],
    [4.0, 4.9, 5.7, 6.4, 7.0, 7.6, 8.2, 8.7, 9.0, 8.9, 8.5, 7.9, 7.2, 6.6, 6.1, 5.7, 5.4, 5.2, 5.0, 4.8, 4.6],
]


def fx(x):
    return x / W


def fy(y):
    return 1 - y / H


def panel(fig, box, ens, red, grn, ylim, yticks, unit):
    # box = (left, top, right, bottom) in pixels
    x0, y0, x1, y1 = box
    ax = fig.add_axes([fx(x0), fy(y1), (x1 - x0) / W, (y1 - y0) / H])
    for i, m in enumerate(ens):
        c = '#a6acc4' if i % 6 == 0 else ENS
        ax.plot(days_ens, m, color=c, lw=0.5, alpha=0.9)
    ax.plot(days_ctl, grn, color=GRN, lw=1.7, zorder=5)
    ax.plot(days_ctl, red, color=RED, lw=1.8, dashes=(3.5, 1.8), zorder=6)
    ax.set_xlim(0, 10)
    ax.set_ylim(*ylim)
    ax.set_xticks(range(11))
    ax.set_yticks(yticks)
    ax.tick_params(labelsize=3.2, length=2, width=0.4, pad=1.2, colors='#555555')
    for s in ax.spines.values():
        s.set_color('#b4b4b4')
        s.set_linewidth(0.6)
    ax.text(-0.055, 1.0, unit, transform=ax.transAxes, fontsize=3.6,
            color='#444444', ha='right', va='center')
    return ax


fig = plt.figure(figsize=(W / 100, H / 100), dpi=100)

# outer frames and separators
for (a, b) in [(7, 381), (391, 756)]:
    fig.add_artist(plt.Rectangle((fx(a), fy(533)), (b - a) / W, (533 - 10) / H,
                                 fill=False, ec=FRAME, lw=0.9, transform=fig.transFigure))
    for ys in (212, 376):
        fig.add_artist(Line2D([fx(a), fx(b)], [fy(ys), fy(ys)], color=FRAME, lw=0.9,
                              transform=fig.transFigure))

# headers
for hx in (12, 398):
    fig.text(fx(hx), fy(27), 'ECMWF EPS FOR:  Mobile_South  46040', fontsize=6.1,
             fontweight='bold', color=TXT, va='center')
    fig.text(fx(hx), fy(38), 'DATE: 20050828  00Z   LAT: 29.18  LONG: -88.21', fontsize=6.1,
             fontweight='bold', color=TXT, va='center')

# legends
leg = [
    (37, [(228, 247, RED, (3, 1.5), 1.8, 'T511', 251),
          (268, 282, GRN, None, 1.6, 'T255', 287),
          (310, 322, ENS, None, 0.7, 'EMem', 329)], 4.2),
    (33, [(611, 634, RED, (3, 1.5), 1.8, 'T511_FC', 635),
          (651, 663, GRN, None, 1.6, 'Gaus_CF', 665),
          (680, 691, ENS, None, 0.7, 'Ens_Mem', 693)], 2.6),
]
for ly, items, fs in leg:
    for a, b, c, d, lw, lab, tx in items:
        ln = Line2D([fx(a), fx(b)], [fy(ly), fy(ly)], color=c, lw=lw, transform=fig.transFigure)
        if d:
            ln.set_dashes(d)
        fig.add_artist(ln)
        fig.text(fx(tx), fy(ly), lab, fontsize=fs, color=TXT, va='center', fontweight='bold')

# panels: left column
panel(fig, (45.5, 67, 349, 192), hs_l_ens, hs_l_red, hs_l_grn, (0, 10.4), range(0, 11), 'm')
panel(fig, (45.5, 232, 349, 357), ws_l_ens, ws_l_red, ws_l_grn, (0, 25.3), range(0, 25, 2), 'm/s')
panel(fig, (45.5, 394, 349, 519), tp_l_ens, tp_l_red, tp_l_grn, (1.9, 14.1), range(2, 15), 's')
# right column
panel(fig, (428.5, 65, 729, 192), hs_r_ens, hs_r_red, hs_r_grn, (0, 10.55), range(0, 11), 'm')
panel(fig, (428.5, 231, 729, 357), ws_r_ens, ws_r_red, ws_r_grn, (0, 29.3), range(0, 29, 2), 'm/s')
panel(fig, (428.5, 393, 729, 518), tp_r_ens, tp_r_red, tp_r_grn, (1.5, 14.8), range(2, 15), 's')

# titles and axis labels
titles = ['Significant wave height (m)', '10m wind speed (m/s)', 'Peak wave period (s)']
for tx, tys in [(46, (55, 219, 383)), (434, (55, 219, 383))]:
    for t, ty in zip(titles, tys):
        fig.text(fx(tx), fy(ty), t, fontsize=7.3, fontweight='bold', color=TXT, va='center')
for xc in (197, 577):
    for ty in (206, 370, 531):
        fig.text(fx(xc), fy(ty), 'Forecast Day', fontsize=6.6, fontweight='bold',
                 color='#333344', ha='center', va='center')

fig.savefig('out.png', dpi=100)
